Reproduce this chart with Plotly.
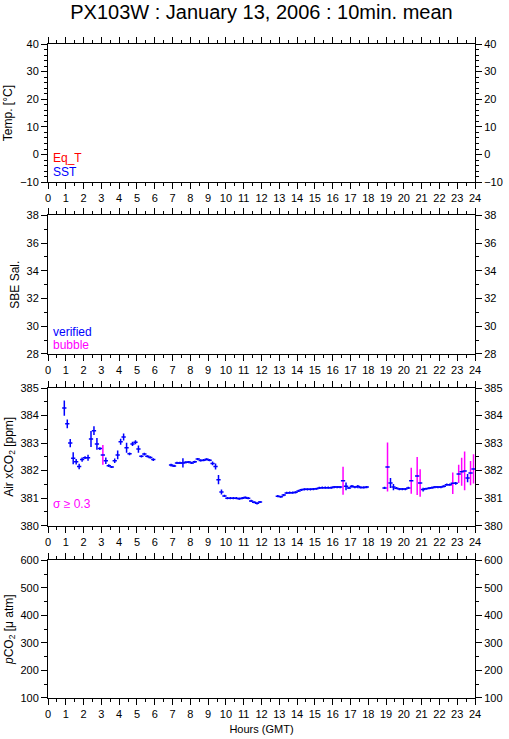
import plotly.graph_objects as go

# ---------------- data ----------------
times = [
    "0:55", "1:05", "1:15", "1:25", "1:35", "1:45", "1:55", "2:05", "2:15", "2:25", "2:35",
    "2:45", "2:55", "3:05", "3:15", "3:25", "3:35", "3:45", "3:55", "4:05", "4:15", "4:25",
    "4:35", "4:45", "4:55", "5:05", "5:15", "5:25", "5:35", "5:45", "5:55",
    "6:55", "7:05", "7:15", "7:25", "7:35", "7:45", "7:55", "8:05", "8:15", "8:25", "8:35",
    "8:45", "8:55", "9:05", "9:15", "9:25", "9:35", "9:45", "9:55", "10:05", "10:15", "10:25",
    "10:35", "10:45", "10:55", "11:05", "11:15", "11:25", "11:35", "11:45", "11:55",
    "12:55", "13:05", "13:15", "13:25", "13:35", "13:45", "13:55", "14:05", "14:15", "14:25",
    "14:35", "14:45", "14:55", "15:05", "15:15", "15:25", "15:35", "15:45", "15:55", "16:05",
    "16:15", "16:25", "16:35", "16:45", "16:55", "17:05", "17:15", "17:25", "17:35", "17:45",
    "17:55",
    "18:55", "19:05", "19:15", "19:25", "19:35", "19:45", "19:55", "20:05", "20:15", "20:25",
    "20:45", "20:55", "21:05", "21:15", "21:25", "21:35", "21:45", "21:55", "22:05", "22:15",
    "22:25", "22:35", "22:45", "22:55", "23:05", "23:15", "23:25", "23:35", "23:45", "23:55",
]
air_xco2 = [
    384.27, 383.70, 383.00, 382.45, 382.32, 382.15, 382.40, 382.47, 382.47, 383.15, 383.45,
    382.97, 382.80, 382.57, 382.36, 382.18, 382.13, 382.36, 382.57, 383.05, 383.22, 382.83,
    382.61, 382.97, 383.03, 382.78, 382.52, 382.60, 382.52, 382.48, 382.40,
    382.20, 382.17, 382.28, 382.28, 382.28, 382.30, 382.31, 382.28, 382.32, 382.42, 382.37,
    382.38, 382.41, 382.38, 382.26, 382.15, 381.67, 381.22, 381.08, 381.00, 381.00, 381.00,
    381.00, 380.98, 381.00, 381.02, 381.00, 380.90, 380.85, 380.81, 380.86,
    381.07, 381.05, 381.11, 381.19, 381.20, 381.20, 381.21, 381.26, 381.30, 381.32,
    381.32, 381.32, 381.33, 381.34, 381.37, 381.38, 381.38, 381.38, 381.38, 381.40,
    381.40, 381.40, 381.63, 381.43, 381.37, 381.43, 381.40, 381.42, 381.39, 381.39,
    381.40,
    381.37, 382.13, 381.55, 381.40, 381.36, 381.33, 381.33, 381.33, 381.37, 381.63,
    381.80, 381.55, 381.31, 381.34, 381.36, 381.38, 381.40, 381.40, 381.40, 381.43,
    381.49, 381.49, 381.54, 381.54, 381.88, 381.96, 381.99, 381.73, 381.91, 382.06,
]
air_sigma = [
    0.28, 0.16, 0.15, 0.22, 0.10, 0.10, 0.08, 0.05, 0.11, 0.29, 0.16,
    0.21, 0.05, 0.36, 0.12, 0.05, 0.04, 0.08, 0.16, 0.11, 0.13, 0.18,
    0.05, 0.08, 0.07, 0.13, 0.04, 0.05, 0.04, 0.04, 0.05,
    0.05, 0.04, 0.04, 0.04, 0.17, 0.04, 0.04, 0.04, 0.04, 0.04, 0.04,
    0.04, 0.04, 0.04, 0.07, 0.11, 0.17, 0.09, 0.04, 0.04, 0.04, 0.04,
    0.04, 0.04, 0.04, 0.04, 0.04, 0.04, 0.04, 0.04, 0.04,
    0.04, 0.04, 0.04, 0.04, 0.04, 0.04, 0.04, 0.04, 0.04, 0.04,
    0.04, 0.04, 0.04, 0.04, 0.04, 0.04, 0.04, 0.04, 0.04, 0.04,
    0.04, 0.04, 0.51, 0.14, 0.04, 0.05, 0.04, 0.06, 0.04, 0.04,
    0.04,
    0.04, 0.89, 0.18, 0.11, 0.04, 0.04, 0.04, 0.04, 0.04, 0.47,
    0.69, 0.50, 0.07, 0.04, 0.04, 0.04, 0.04, 0.04, 0.04, 0.04,
    0.04, 0.04, 0.39, 0.05, 0.33, 0.51, 0.70, 0.15, 0.44, 0.53,
]
SIGMA_LIMIT = 0.3
half_interval_h = 0.12  # half width of each 10-min mean bar (hours)

panel_titles = ["Temp. [°C]", "SBE Sal.", "Air xCO<sub>2</sub> [ppm]", "<i>p</i>CO<sub>2</sub> [μ atm]"]
panel_ranges = [[-10, 40], [28, 38], [380, 385], [100, 600]]
panel_dticks = [10, 2, 1, 100]
panel_minor = [2, 1, 0.5, 50]
x_ticks = list(range(0, 25))

# ---------------- build ----------------
hours = [int(t.split(":")[0]) + int(t.split(":")[1]) / 60 for t in times]
lo_sig = [s if s < SIGMA_LIMIT else 0 for s in air_sigma]
hi_x = [h for h, s in zip(hours, air_sigma) if s >= SIGMA_LIMIT]
hi_y = [v for v, s in zip(air_xco2, air_sigma) if s >= SIGMA_LIMIT]
hi_s = [s for s in air_sigma if s >= SIGMA_LIMIT]

FONT = "Liberation Sans, Arial, Helvetica, sans-serif"
BLUE = "#0000ff"
MAG = "#ff00ff"

fig = go.Figure()

fig.add_trace(go.Scatter(
    x=hi_x, y=hi_y, mode="markers", xaxis="x3", yaxis="y3",
    marker=dict(size=1, color="rgba(0,0,0,0)"),
    error_y=dict(type="data", array=hi_s, visible=True, color=MAG, thickness=1.5, width=0),
    showlegend=False, hoverinfo="skip"))
fig.add_trace(go.Scatter(
    x=hours, y=air_xco2, mode="markers", xaxis="x3", yaxis="y3",
    marker=dict(size=1, color="rgba(0,0,0,0)"),
    error_x=dict(type="constant", value=half_interval_h, visible=True, color=BLUE, thickness=1.5, width=0),
    error_y=dict(type="data", array=lo_sig, visible=True, color=BLUE, thickness=1.5, width=0),
    showlegend=False))

for i in range(1, 5):
    xa = "x" if i == 1 else f"x{i}"
    for ya in ["y" if i == 1 else f"y{i}", f"y{i+4}"]:
        fig.add_trace(go.Scatter(x=[None], y=[None], xaxis=xa, yaxis=ya, showlegend=False))

domains = [[0.7887, 1.0], [0.526, 0.7379], [0.2635, 0.474], [0.0, 0.2104]]

layout = dict(
    width=509, height=739,
    margin=dict(l=48, r=34, t=44, b=41, autoexpand=False),
    plot_bgcolor="white", paper_bgcolor="white",
    font=dict(family=FONT, size=11, color="black"),
    title=dict(text="PX103W : January 13, 2006 : 10min. mean",
               x=0.5, xref="paper", xanchor="center",
               y=1 - 12 / 739, yref="container", yanchor="middle",
               font=dict(family=FONT, size=20, color="black")),
    showlegend=False,
)

for i in range(1, 5):
    xk = "xaxis" if i == 1 else f"xaxis{i}"
    yk = "yaxis" if i == 1 else f"yaxis{i}"
    yr = f"yaxis{i+4}"
    ya = "y" if i == 1 else f"y{i}"
    xa = "x" if i == 1 else f"x{i}"
    xdict = dict(
        domain=[0, 1], anchor=ya, range=[0, 24], tickmode="array", tickvals=x_ticks,
        ticktext=[str(v) for v in x_ticks],
        ticks="outside", ticklen=6, tickwidth=1, tickcolor="black",
        minor=dict(dtick=0.5, tick0=0, ticks="outside", ticklen=3, tickwidth=1, tickcolor="black"),
        showline=True, linecolor="black", linewidth=1, mirror="ticks",
        showgrid=False, zeroline=False, tickfont=dict(size=11), automargin=False,
    )
    if i == 4:
        xdict["title"] = dict(text="Hours (GMT)", font=dict(size=11), standoff=6)
    layout[xk] = xdict
    common = dict(
        domain=domains[i - 1], range=panel_ranges[i - 1], tickmode="linear",
        tick0=panel_ranges[i - 1][0], dtick=panel_dticks[i - 1],
        ticks="outside", ticklen=6, tickwidth=1, tickcolor="black",
        minor=dict(dtick=panel_minor[i - 1], ticks="outside", ticklen=3, tickwidth=1, tickcolor="black"),
        showline=True, linecolor="black", linewidth=1,
        showgrid=False, zeroline=False, tickfont=dict(size=11), automargin=False,
    )
    layout[yk] = dict(common, anchor=xa, side="left",
                      title=dict(text=panel_titles[i - 1], font=dict(size=12), standoff=4))
    layout[yr] = dict(common, anchor=xa, side="right", overlaying=ya)

fig.update_layout(**layout)

ann = [
    dict(text="Eq_T", x=0.15, y=-1.3, xref="x", yref="y", color="#ff0000"),
    dict(text="SST", x=0.15, y=-6.4, xref="x", yref="y", color=BLUE),
    dict(text="verified", x=0.15, y=29.61, xref="x2", yref="y2", color=BLUE),
    dict(text="bubble", x=0.15, y=28.67, xref="x2", yref="y2", color=MAG),
    dict(text="σ ≥ 0.3", x=0.15, y=380.8, xref="x3", yref="y3", color=MAG),
]
for a in ann:
    fig.add_annotation(text=a["text"], x=a["x"], y=a["y"], xref=a["xref"], yref=a["yref"],
                       xanchor="left", yanchor="middle", showarrow=False,
                       font=dict(family=FONT, size=12, color=a["color"]))

fig.write_html("out.html", config={"displayModeBar": False},
               post_script="document.body.style.margin='0';document.body.style.overflow='hidden';")
